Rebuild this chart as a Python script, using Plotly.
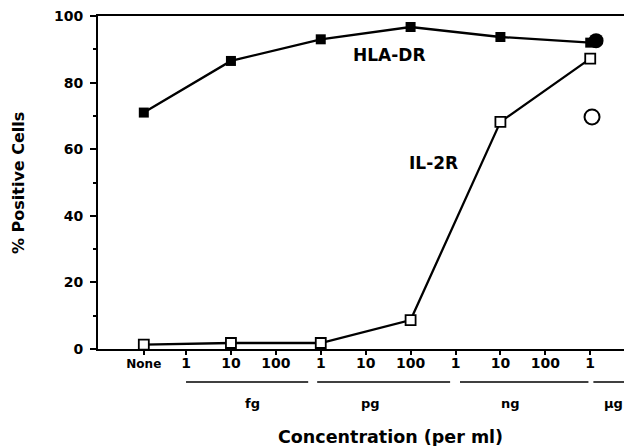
import plotly.graph_objects as go

# ---- data ----
tick_pos = [-0.94, 0, 1, 2, 3, 4, 5, 6, 7, 8, 9]
tick_labels = ["None", "1", "10", "100", "1", "10", "100", "1", "10", "100", "1"]

x_points = [-0.94, 1, 3, 5, 7, 9]
hla_dr = [71, 86.5, 93, 96.7, 93.7, 92]
il2r = [1.3, 1.8, 1.8, 8.7, 68.2, 87.2]

circle_x = [9.13, 9.04]
circle_filled = [92.6]
circle_open = [69.7]

unit_labels = ["fg", "pg", "ng", "µg"]
unit_label_x = [1.47, 4.1, 7.22, 9.51]
unit_line_ranges = [(0, 2.72), (2.92, 5.88), (6.1, 8.96), (9.07, 10.2)]

FONT = "DejaVu Sans, Liberation Sans, Arial, sans-serif"

fig = go.Figure()

fig.add_trace(go.Scatter(
    x=x_points, y=hla_dr, mode="lines+markers",
    line=dict(color="black", width=2.3),
    marker=dict(symbol="square", size=10, color="black"),
    showlegend=False, cliponaxis=False))

fig.add_trace(go.Scatter(
    x=x_points, y=il2r, mode="lines+markers",
    line=dict(color="black", width=2.3),
    marker=dict(symbol="square", size=10, color="white",
                line=dict(color="black", width=1.8)),
    showlegend=False, cliponaxis=False))

fig.add_trace(go.Scatter(
    x=[circle_x[0]], y=circle_filled, mode="markers",
    marker=dict(symbol="circle", size=15, color="black"),
    showlegend=False, cliponaxis=False))

fig.add_trace(go.Scatter(
    x=[circle_x[1]], y=circle_open, mode="markers",
    marker=dict(symbol="circle", size=15, color="white",
                line=dict(color="black", width=2)),
    showlegend=False, cliponaxis=False))

shapes = []
for (x0, x1) in unit_line_ranges:
    shapes.append(dict(type="line", xref="x", yref="paper",
                       x0=x0, x1=x1, y0=-0.099, y1=-0.099,
                       line=dict(color="black", width=1.5)))

annotations = []
for lab, lx in zip(unit_labels, unit_label_x):
    annotations.append(dict(x=lx, y=-0.165, xref="x", yref="paper",
                            xanchor="center", yanchor="middle",
                            text=lab, showarrow=False,
                            font=dict(family=FONT, size=13, color="black", weight="bold")))

annotations += [
    dict(x=4.52, y=88.3, xref="x", yref="y", text="HLA-DR", showarrow=False,
         xanchor="center", yanchor="middle",
         font=dict(family=FONT, size=17, color="black", weight="bold")),
    dict(x=5.52, y=55.9, xref="x", yref="y", text="IL-2R", showarrow=False,
         xanchor="center", yanchor="middle",
         font=dict(family=FONT, size=17, color="black", weight="bold")),
    dict(x=0.547, y=-0.264, xref="paper", yref="paper",
         xanchor="center", yanchor="middle",
         text="Concentration (per ml)", showarrow=False,
         font=dict(family=FONT, size=17.5, color="black", weight="bold")),
    dict(x=-0.150, y=0.498, xref="paper", yref="paper",
         xanchor="center", yanchor="middle",
         text="% Positive Cells", showarrow=False, textangle=-90,
         font=dict(family=FONT, size=16, color="black", weight="bold")),
]

ticktext = [("<span style='font-size:12px'>%s</span>" % t) if t == "None" else t
            for t in tick_labels]

fig.update_layout(
    width=624, height=438,
    margin=dict(l=90, r=0, t=8, b=97),
    paper_bgcolor="white", plot_bgcolor="white",
    shapes=shapes, annotations=annotations,
    xaxis=dict(range=[-1.96, 9.93], tickmode="array",
               tickvals=tick_pos, ticktext=ticktext,
               showgrid=False, zeroline=False,
               showline=True, linecolor="black", linewidth=2, mirror=True,
               ticks="outside", ticklen=4, tickwidth=1.5, tickcolor="black",
               ticklabelstandoff=-4, ticklabeloverflow="allow",
               tickfont=dict(family=FONT, size=14, color="black", weight="bold")),
    yaxis=dict(range=[0, 100], tickmode="array",
               tickvals=[0, 20, 40, 60, 80, 100],
               showgrid=False, zeroline=False,
               showline=True, linecolor="black", linewidth=2,
               ticks="outside", ticklen=6, tickwidth=1.5, tickcolor="black",
               ticklabelstandoff=4, ticklabeloverflow="allow",
               minor=dict(tickvals=[10, 30, 50, 70, 90], ticks="outside",
                          ticklen=3, tickwidth=1.5, tickcolor="black"),
               tickfont=dict(family=FONT, size=14, color="black", weight="bold")),
)

fig.write_html("out.html")
